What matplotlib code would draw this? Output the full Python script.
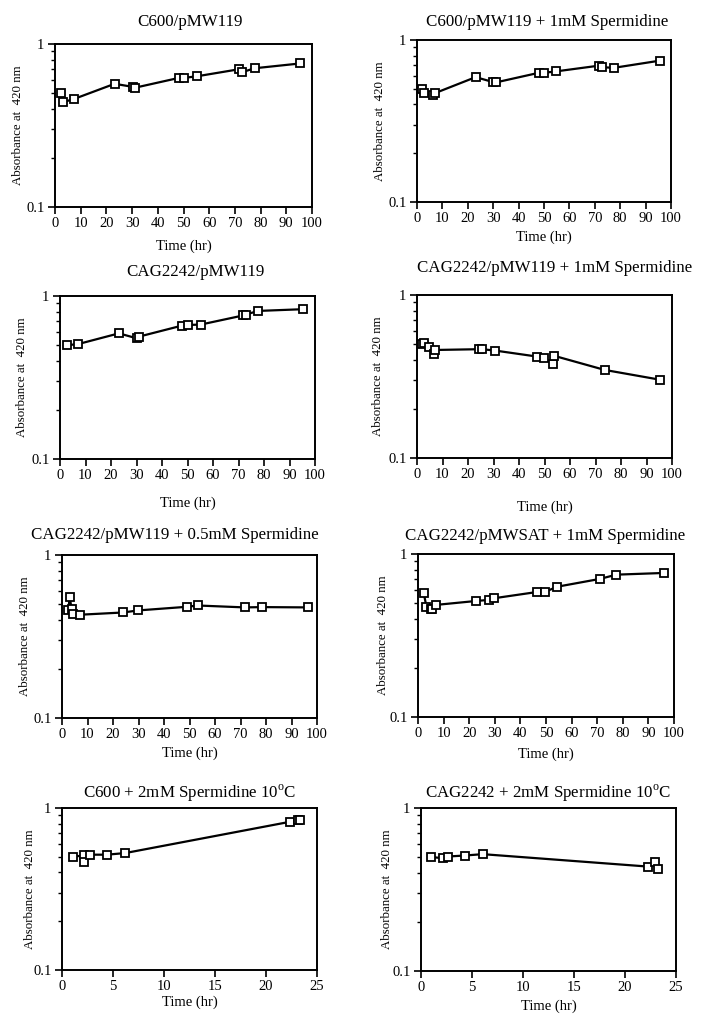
import matplotlib
matplotlib.use("Agg")
import matplotlib.pyplot as plt
from matplotlib.ticker import LogLocator, NullFormatter

plt.rcParams['font.family'] = ['Liberation Serif', 'DejaVu Serif']
plt.rcParams['mathtext.fontset'] = 'custom'
plt.rcParams['mathtext.rm'] = 'Liberation Serif'

# data (time in hr, absorbance at 420 nm)
titles = [
    "C600/pMW119",
    "C600/pMW119 + 1mM Spermidine",
    "CAG2242/pMW119",
    "CAG2242/pMW119 + 1mM Spermidine",
    "CAG2242/pMW119 + 0.5mM Spermidine",
    "CAG2242/pMWSAT + 1mM Spermidine",
    "C600 + 2mM Spermidine 10$^{\\rm o}$C",
    "CAG2242 + 2mM Spermidine 10$^{\\rm o}$C",
]

t1 = [2.2, 3.2, 7.4, 23.2, 30.5, 31.3, 48.3, 50.3, 55.3, 71.6, 72.6, 77.7, 95.5]
a1 = [0.50, 0.44, 0.46, 0.57, 0.545, 0.54, 0.62, 0.62, 0.634, 0.70, 0.67, 0.71, 0.76]

t2 = [1.8, 2.9, 6.4, 7.1, 23.1, 29.9, 31.0, 47.9, 49.9, 54.7, 71.8, 72.7, 77.4, 95.7]
a2 = [0.50, 0.47, 0.46, 0.47, 0.59, 0.55, 0.547, 0.627, 0.627, 0.64, 0.695, 0.68, 0.673, 0.746]

t3 = [2.9, 6.9, 23.1, 30.1, 31.1, 47.8, 50.2, 55.2, 71.9, 72.8, 77.8, 95.4]
a3 = [0.50, 0.506, 0.59, 0.55, 0.564, 0.658, 0.664, 0.668, 0.76, 0.77, 0.81, 0.83]

t4 = [2.0, 2.7, 4.8, 6.7, 7.2, 24.2, 25.5, 30.7, 47.1, 49.8, 53.2, 53.9, 73.6, 95.4]
a4 = [0.50, 0.506, 0.478, 0.433, 0.46, 0.465, 0.465, 0.456, 0.419, 0.408, 0.378, 0.423, 0.347, 0.302]

t5 = [2.5, 3.0, 3.8, 4.2, 6.9, 24.0, 29.8, 48.9, 53.2, 71.6, 78.4, 96.5]
a5 = [0.46, 0.55, 0.465, 0.435, 0.43, 0.444, 0.457, 0.481, 0.49, 0.477, 0.479, 0.477]

t6 = [2.2, 3.3, 4.9, 5.6, 6.9, 22.7, 27.7, 29.6, 46.6, 49.5, 54.4, 71.0, 77.5, 96.0]
a6 = [0.58, 0.474, 0.463, 0.46, 0.487, 0.515, 0.523, 0.535, 0.585, 0.585, 0.63, 0.703, 0.747, 0.765]

t7 = [1.04, 2.18, 2.18, 2.7, 4.4, 6.19, 22.4, 23.1, 23.3]
a7 = [0.50, 0.51, 0.464, 0.515, 0.515, 0.527, 0.823, 0.839, 0.847]

t8 = [1.01, 2.2, 2.65, 4.28, 6.05, 22.3, 22.9, 23.2]
a8 = [0.50, 0.492, 0.504, 0.511, 0.521, 0.437, 0.465, 0.421]

times = [t1, t2, t3, t4, t5, t6, t7, t8]
absorb = [a1, a2, a3, a4, a5, a6, a7, a8]
xmax = [100, 100, 100, 100, 100, 100, 25, 25]
xstep = [10, 10, 10, 10, 10, 10, 5, 5]

W, H = 705, 1029
fig = plt.figure(figsize=(W / 100, H / 100), dpi=100)

# axes boxes in pixels: left, right, top, bottom
boxes = [
    (55, 312, 44, 207), (417, 671, 40, 202),
    (60, 315, 296, 459), (417, 672, 295, 458),
    (62, 317, 555, 718), (418, 674, 554, 717),
    (62, 317, 808, 970), (421, 676, 808, 971),
]
# title (x, y), xlabel y, ylabel x in pixels
title_pos = [(190, 22), (547, 22), (195, 272), (555, 268),
             (175, 535), (545, 536), (190, 793), (548, 793)]
xlab_y = [246, 237, 503, 507, 753, 754, 1002, 1006]
ylab_x = [18, 380, 22, 378, 25, 383, 30, 387]

for i in range(8):
    l, r, tp, b = boxes[i]
    ax = fig.add_axes([l / W, 1 - b / H, (r - l) / W, (b - tp) / H])
    ax.plot(times[i], absorb[i], color='black', lw=1.6, marker='s',
            ms=6.2, mfc='white', mec='black', mew=1.3)
    ax.set_yscale('log')
    ax.set_ylim(0.1, 1)
    ax.set_xlim(0, xmax[i])
    ax.set_xticks(range(0, xmax[i] + 1, xstep[i]))
    ax.set_yticks([0.1, 1], ['0.1', '1'])
    ax.yaxis.set_minor_locator(LogLocator(base=10, subs=range(2, 10)))
    ax.yaxis.set_minor_formatter(NullFormatter())
    ax.tick_params(axis='both', which='major', direction='out', length=5,
                   width=1.2, labelsize=10.5, pad=2.5)
    ax.tick_params(axis='y', which='minor', direction='out', length=3, width=1.0)
    for s in ax.spines.values():
        s.set_linewidth(1.4)

    fig.text(title_pos[i][0] / W, 1 - title_pos[i][1] / H, titles[i],
             ha='center', va='center', fontsize=12.2)
    cx = (l + r) / 2 / W
    fig.text(cx, 1 - xlab_y[i] / H, "Time (hr)", ha='center', va='center',
             fontsize=10.5)
    cy = 1 - (tp + b) / 2 / H
    fig.text(ylab_x[i] / W, cy, "Absorbance at  420 nm", ha='center',
             va='center', rotation=90, fontsize=9.3)

fig.savefig("out.png", dpi=100, facecolor='white')
